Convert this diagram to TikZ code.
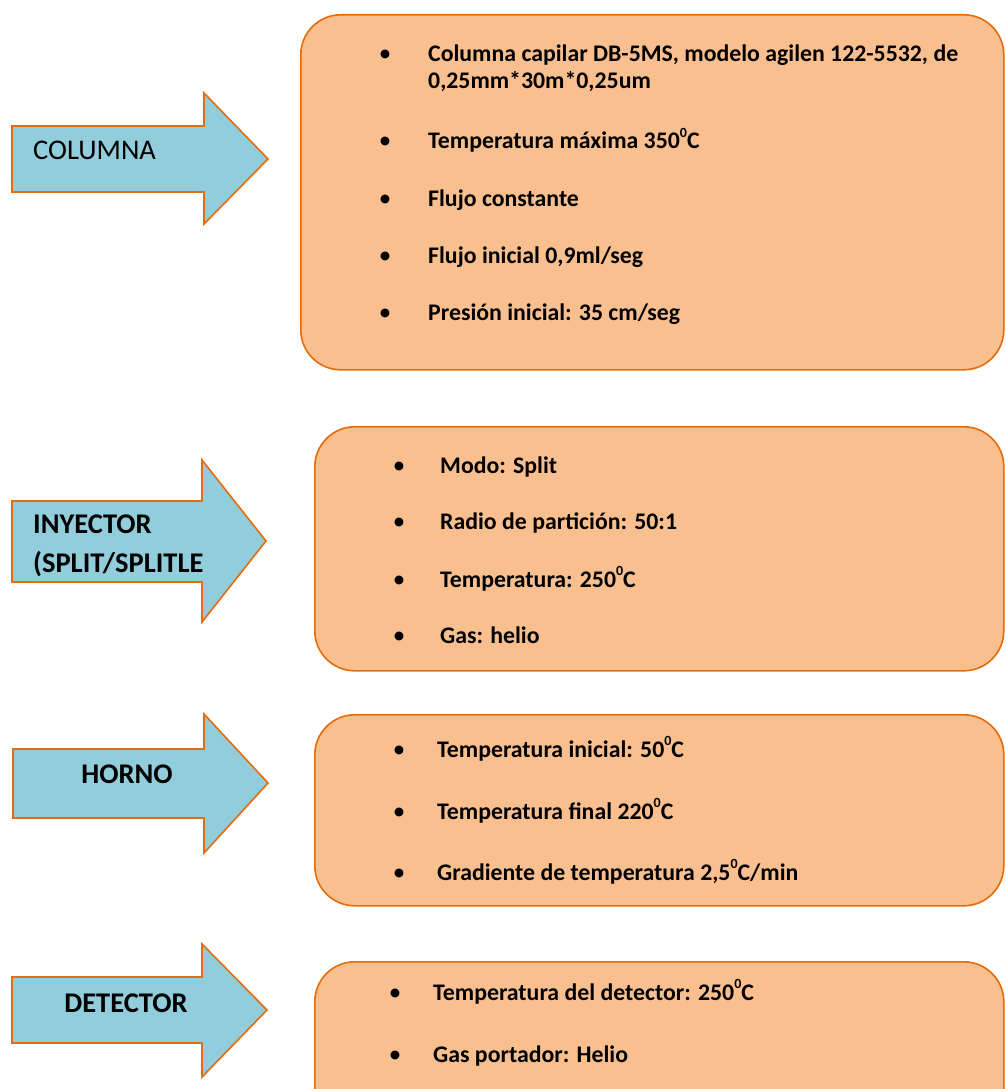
\documentclass[tikz,border=0pt]{standalone}
\usepackage{fontspec}
\setmainfont{Carlito}
\definecolor{aqua}{HTML}{92CDDC}
\definecolor{peach}{HTML}{FABF8F}
\definecolor{edge}{HTML}{E46C0A}
% small raised zero used as the degree mark
\newcommand{\degsup}{\raisebox{0.5em}{\fontsize{14}{14}\selectfont 0}}
\begin{document}
\begin{tikzpicture}[x=1pt,y=-1pt,
  arrowbody/.style={fill=aqua, draw=edge, line width=1.6pt, line join=miter},
  infobox/.style={rectangle, rounded corners=40pt, fill=peach, draw=edge,
    line width=1.6pt, anchor=north west, inner sep=0pt},
  tag/.style={font=\fontsize{28.5}{34}\selectfont, inner sep=0pt},
  boldtag/.style={font=\bfseries\fontsize{28.5}{34}\selectfont, inner sep=0pt},
  item/.style={font=\bfseries\fontsize{23.8}{28}\selectfont, inner sep=0pt, anchor=base west},
  dot/.style={font=\fontsize{25}{28}\selectfont, inner sep=0pt, anchor=base}
]
\clip (0,0) rectangle (1005,1089);
\fill[white] (0,0) rectangle (1005,1089);

% ---------- COLUMNA ----------
\path[arrowbody] (12,126) -- (204,126) -- (204,93) -- (268,159) -- (204,224)
  -- (204,192) -- (12,192) -- cycle;
\node[tag, anchor=base west] (lcol) at (33,159) {COLUMNA};

\node[infobox, minimum width=703pt, minimum height=355pt] (bcol) at (300,14) {};
\node[dot] (d11) at (385,62) {•};
\node[item] (t11) at (428,62) {Columna capilar DB-5MS, modelo agilen 122-5532, de};
\node[item] (t11b) at (428,89) {0,25mm*30m*0,25um};
\node[dot] (d12) at (385,149) {•};
\node[item] (t12) at (428,149) {Temperatura máxima 350\degsup C};
\node[dot] (d13) at (385,206) {•};
\node[item] (t13) at (428,206) {Flujo constante};
\node[dot] (d14) at (385,263) {•};
\node[item] (t14) at (428,263) {Flujo inicial 0,9ml/seg};
\node[dot] (d15) at (385,320) {•};
\node[item] (t15) at (428,320) {Presión inicial: 35 cm/seg};

% ---------- INYECTOR ----------
\path[arrowbody] (12,501) -- (202,501) -- (202,460) -- (266,541) -- (202,622)
  -- (202,582) -- (12,582) -- cycle;
\node[boldtag, anchor=base west] (liny1) at (33,533) {INYECTOR};
\node[boldtag, anchor=base west] (liny2) at (33,572) {(SPLIT/SPLITLE};

\node[infobox, minimum width=689pt, minimum height=244pt] (biny) at (314,426) {};
\node[dot] (d21) at (399,473) {•};
\node[item] (t21) at (440,473) {Modo: Split};
\node[dot] (d22) at (399,529) {•};
\node[item] (t22) at (440,529) {Radio de partición: 50:1};
\node[dot] (d23) at (399,587) {•};
\node[item] (t23) at (440,587) {Temperatura: 250\degsup C};
\node[dot] (d24) at (399,643) {•};
\node[item] (t24) at (440,643) {Gas: helio};

% ---------- HORNO ----------
\path[arrowbody] (13,749) -- (204,749) -- (204,714) -- (268,783) -- (204,853)
  -- (204,818) -- (13,818) -- cycle;
\node[boldtag, anchor=base] (lhor) at (127,783) {HORNO};

\node[infobox, minimum width=689pt, minimum height=191pt] (bhor) at (314,714) {};
\node[dot] (d31) at (399,757) {•};
\node[item] (t31) at (437,757) {Temperatura inicial: 50\degsup C};
\node[dot] (d32) at (399,819) {•};
\node[item] (t32) at (437,819) {Temperatura final 220\degsup C};
\node[dot] (d33) at (399,880) {•};
\node[item] (t33) at (437,880) {Gradiente de temperatura 2,5\degsup C/min};

% ---------- DETECTOR ----------
\path[arrowbody] (12,977) -- (202,977) -- (202,944) -- (267,1010) -- (202,1077)
  -- (202,1043) -- (12,1043) -- cycle;
\node[boldtag, anchor=base] (ldet) at (126,1012) {DETECTOR};

\node[infobox, minimum width=689pt, minimum height=200pt] (bdet) at (314,961) {};
\node[dot] (d41) at (395,1000) {•};
\node[item] (t41) at (433,1000) {Temperatura del detector: 250\degsup C};
\node[dot] (d42) at (395,1062) {•};
\node[item] (t42) at (433,1062) {Gas portador: Helio};
\end{tikzpicture}
\end{document}
